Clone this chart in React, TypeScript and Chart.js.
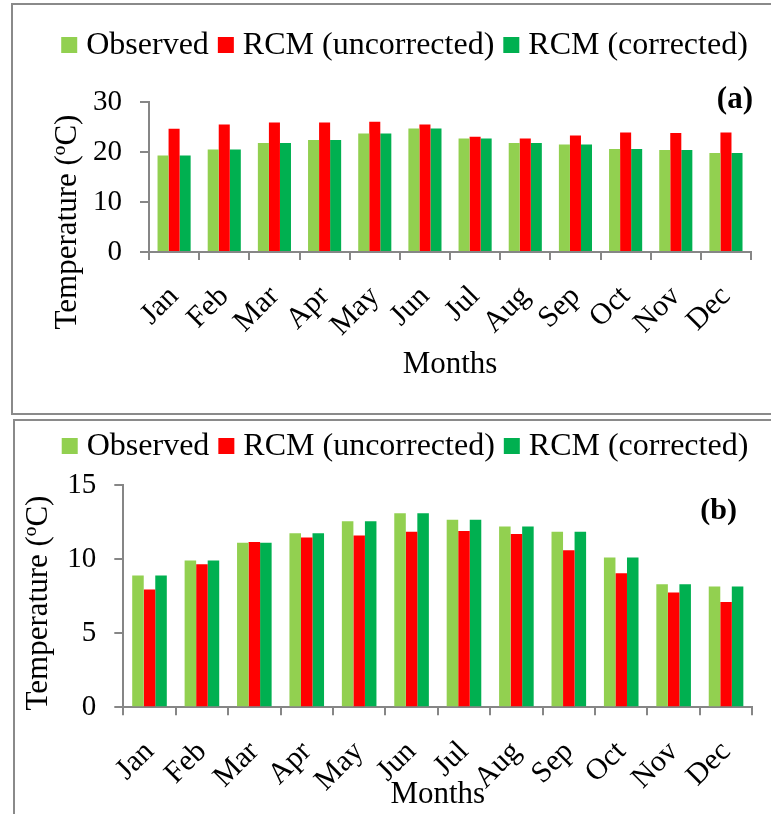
import React, { useEffect, useRef } from "react";
import { Chart, registerables } from "chart.js";

Chart.register(...registerables);

const FONT = '"Liberation Serif", "Times New Roman", serif';

const months = ["Jan", "Feb", "Mar", "Apr", "May", "Jun", "Jul", "Aug", "Sep", "Oct", "Nov", "Dec"];
const seriesNames = ["Observed", "RCM (uncorrected)", "RCM (corrected)"];
const seriesColors = ["#92D050", "#FF0000", "#00B050"];

// Panel (a) monthly temperature, °C
const observedA = [19.3, 20.5, 21.8, 22.4, 23.7, 24.7, 22.7, 21.8, 21.5, 20.6, 20.4, 19.8];
const uncorrectedA = [24.65, 25.5, 25.9, 25.9, 26.05, 25.5, 23.05, 22.7, 23.3, 23.9, 23.8, 23.9];
const correctedA = [19.3, 20.5, 21.8, 22.4, 23.7, 24.7, 22.7, 21.8, 21.5, 20.6, 20.4, 19.8];
const yTicksA = [0, 10, 20, 30];

// Panel (b) monthly temperature, °C
const observedB = [8.9, 9.9, 11.1, 11.75, 12.55, 13.1, 12.65, 12.2, 11.85, 10.1, 8.3, 8.15];
const uncorrectedB = [7.95, 9.65, 11.15, 11.45, 11.6, 11.85, 11.9, 11.7, 10.6, 9.05, 7.75, 7.1];
const correctedB = [8.9, 9.9, 11.1, 11.75, 12.55, 13.1, 12.65, 12.2, 11.85, 10.1, 8.3, 8.15];
const yTicksB = [0, 5, 10, 15];

const AXIS_GREY = "#868686";

// Draws the legend row, the panel tag and the rotated y-axis title.
const decorPlugin = {
  id: "decor",
  afterDraw(chart: any, _args: any, opts: any) {
    const ctx = chart.ctx as CanvasRenderingContext2D;
    ctx.save();
    ctx.font = `${opts.legendSize}px ${FONT}`;
    const items = chart.data.datasets.map((ds: any) => ({
      label: ds.label as string,
      color: ds.backgroundColor as string,
      w: ctx.measureText(ds.label).width,
    }));
    const box = 16;
    const gapText = 9;
    const gapItem = 9;
    const total =
      items.reduce((s: number, it: any) => s + box + gapText + it.w, 0) + gapItem * (items.length - 1);
    let x = opts.legendX - total / 2;
    ctx.textBaseline = "middle";
    ctx.textAlign = "left";
    for (const it of items) {
      ctx.fillStyle = it.color;
      ctx.fillRect(x, opts.legendY - box / 2, box, box);
      x += box + gapText;
      ctx.fillStyle = "#000";
      ctx.fillText(it.label, x, opts.legendY + 1);
      x += it.w + gapItem;
    }

    ctx.font = `bold ${opts.tagSize}px ${FONT}`;
    ctx.textAlign = "right";
    ctx.fillText(opts.tag, opts.tagX, opts.tagY);

    ctx.translate(opts.yTitleX, opts.yTitleY);
    ctx.rotate(-Math.PI / 2);
    ctx.font = `${opts.yTitleSize}px ${FONT}`;
    ctx.textAlign = "center";
    ctx.fillText(opts.yTitle, 0, 0);
    ctx.restore();
  },
};

type PanelProps = {
  observed: number[];
  uncorrected: number[];
  corrected: number[];
  yTicks: number[];
  tag: string;
  width: number;
  height: number;
  yAxisWidth: number;
  padTop: number;
  padRight: number;
  padBottom: number;
  xAxisHeight: number;
  legendX: number;
  legendY: number;
  tagX: number;
  tagY: number;
  tagSize: number;
  yTitleX: number;
  yTitleY: number;
};

function Panel(p: PanelProps) {
  const ref = useRef<HTMLCanvasElement | null>(null);

  useEffect(() => {
    if (!ref.current) return;
    const step = p.yTicks[1] - p.yTicks[0];
    const chart = new Chart(ref.current, {
      type: "bar",
      data: {
        labels: months,
        datasets: [p.observed, p.uncorrected, p.corrected].map((values, i) => ({
          label: seriesNames[i],
          data: values,
          backgroundColor: seriesColors[i],
          borderWidth: 0,
          categoryPercentage: 0.66,
          barPercentage: 1.0,
        })),
      },
      options: {
        responsive: false,
        animation: false,
        layout: {
          padding: { top: p.padTop, right: p.padRight, bottom: p.padBottom, left: 0 },
        },
        plugins: {
          legend: { display: false },
          tooltip: { enabled: false },
          decor: {
            legendX: p.legendX,
            legendY: p.legendY,
            legendSize: 32,
            tag: p.tag,
            tagX: p.tagX,
            tagY: p.tagY,
            tagSize: p.tagSize,
            yTitle: "Temperature (ºC)",
            yTitleX: p.yTitleX,
            yTitleY: p.yTitleY,
            yTitleSize: 31,
          },
        } as any,
        scales: {
          x: {
            offset: true,
            grid: {
              offset: true,
              drawOnChartArea: false,
              drawTicks: true,
              tickLength: 8,
              color: AXIS_GREY,
              lineWidth: 2,
            },
            border: { display: true, color: AXIS_GREY, width: 2 },
            ticks: {
              color: "#000",
              font: { family: FONT, size: 30 },
              minRotation: 45,
              maxRotation: 45,
              autoSkip: false,
              padding: 19,
            },
            title: {
              display: true,
              text: "Months",
              color: "#000",
              font: { family: FONT, size: 31 },
              padding: { top: 0, bottom: 0 },
            },
            afterFit: (scale: any) => {
              scale.height = p.xAxisHeight;
            },
          },
          y: {
            min: p.yTicks[0],
            max: p.yTicks[p.yTicks.length - 1],
            grid: {
              drawOnChartArea: false,
              drawTicks: true,
              tickLength: 9,
              color: AXIS_GREY,
              lineWidth: 2,
            },
            border: { display: true, color: AXIS_GREY, width: 2 },
            ticks: {
              stepSize: step,
              color: "#000",
              font: { family: FONT, size: 29 },
              padding: 18,
            },
            afterBuildTicks: (scale: any) => {
              scale.ticks = p.yTicks.map((v) => ({ value: v }));
            },
            afterFit: (scale: any) => {
              scale.width = p.yAxisWidth;
            },
          },
        },
      },
      plugins: [decorPlugin as any],
    });
    return () => chart.destroy();
  }, []);

  return <canvas ref={ref} width={p.width} height={p.height} style={{ display: "block" }} />;
}

export default function App() {
  return (
    <div
      style={{
        position: "absolute",
        left: 0,
        top: 0,
        width: 771,
        height: 814,
        overflow: "hidden",
        background: "#fff",
      }}
    >
      <div
        style={{
          position: "absolute",
          left: 11,
          top: 3,
          width: 800,
          height: 408,
          border: "2px solid #8a8a8a",
        }}
      >
        <Panel
          observed={observedA}
          uncorrected={uncorrectedA}
          corrected={correctedA}
          yTicks={yTicksA}
          tag="(a)"
          width={758}
          height={408}
          yAxisWidth={136}
          padTop={97}
          padRight={14}
          padBottom={29.4}
          xAxisHeight={131.6}
          legendX={391.5}
          legendY={40}
          tagX={740}
          tagY={95}
          tagSize={31}
          yTitleX={54.5}
          yTitleY={217}
        />
      </div>
      <div
        style={{
          position: "absolute",
          left: 13,
          top: 419,
          width: 800,
          height: 500,
          border: "2px solid #8a8a8a",
        }}
      >
        <Panel
          observed={observedB}
          uncorrected={uncorrectedB}
          corrected={correctedB}
          yTicks={yTicksB}
          tag="(b)"
          width={756}
          height={393}
          yAxisWidth={108.3}
          padTop={64}
          padRight={12}
          padBottom={0.4}
          xAxisHeight={106.3}
          legendX={390}
          legendY={25}
          tagX={722}
          tagY={90}
          tagSize={30}
          yTitleX={24}
          yTitleY={182}
        />
      </div>
    </div>
  );
}
